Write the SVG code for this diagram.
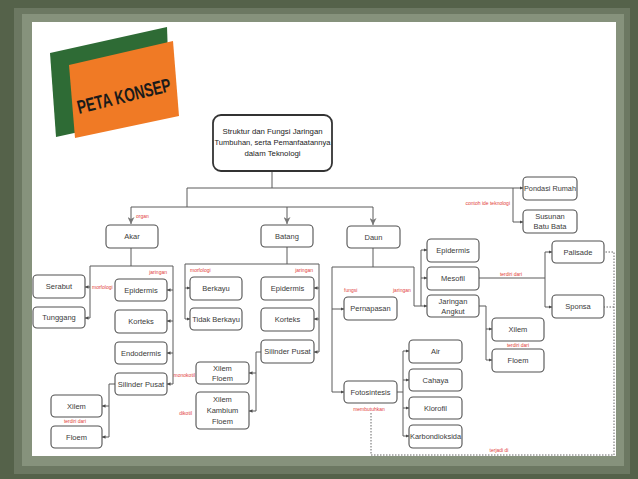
<svg xmlns="http://www.w3.org/2000/svg" width="638" height="479" viewBox="0 0 638 479">
<style>
.box{fill:#fff;stroke:#505050;stroke-width:1.1}
.t{font-family:"Liberation Sans",Arial,sans-serif;font-size:7.5px;fill:#3a3a3a;text-anchor:middle}
.r{font-family:"Liberation Sans",Arial,sans-serif;font-size:5px;fill:#e2413b}
.ln{fill:none;stroke:#5a5a5a;stroke-width:1}
.ar{fill:none;stroke:#5a5a5a;stroke-width:1;marker-end:url(#a)}
.dot{fill:none;stroke:#666;stroke-width:1;stroke-dasharray:1.5 1.5}
</style>
<defs>
<marker id="a" viewBox="0 0 6 6" refX="6" refY="3" markerWidth="3.5" markerHeight="3.5" markerUnits="userSpaceOnUse" orient="auto"><path d="M0,0 L6,3 L0,6 Z" fill="#4a4a4a"/></marker>
<marker id="b" viewBox="0 0 10 10" refX="10" refY="5" markerWidth="7" markerHeight="7" markerUnits="userSpaceOnUse" orient="auto"><path d="M0,0 L10,5 L0,10 L3,5 Z" fill="#777"/></marker>
</defs>
<!-- background frame -->
<rect x="0" y="0" width="638" height="479" fill="#55624a"/>
<rect x="14" y="8" width="616" height="466" fill="#6c7862"/>
<rect x="22" y="14" width="602" height="452" fill="#86927c"/>
<rect x="32" y="22" width="584" height="434" fill="#ffffff"/>
<!-- logo -->
<g id="logo">
<polygon points="50,53 167,27 170,112 56,137" fill="#2e6b35"/>
<polygon points="69,65 173,41 179,116 75,138" fill="#f07a25"/>
<text x="79" y="114" transform="rotate(-14 79 114)" font-family="'Liberation Sans',Arial,sans-serif" font-weight="bold" font-size="19" fill="#1a1a1a" textLength="96" lengthAdjust="spacingAndGlyphs">PETA KONSEP</text>
</g>
<!-- connectors -->
<g id="connectors">
<path class="ln" d="M272,171 V188 M187,188 H513 M187,188 V207 M131,207 H373"/>
<path class="ln" d="M131,207 V224" marker-end="url(#b)"/>
<path class="ln" d="M287,207 V224" marker-end="url(#b)"/>
<path class="ln" d="M373,207 V225" marker-end="url(#b)"/>
<path class="ln" d="M513,188 V222"/>
<path class="ar" d="M513,188 H523"/><path class="ar" d="M513,222 H523"/>
<!-- akar -->
<path class="ln" d="M131,248 V266 M90,266 H173 M90,266 V318 M173,266 V384"/>
<path class="ar" d="M90,287 H85"/><path class="ar" d="M90,318 H85"/>
<path class="ar" d="M173,290 H167"/><path class="ar" d="M173,321 H167"/><path class="ar" d="M173,353 H167"/><path class="ar" d="M173,384 H167"/>
<path class="ln" d="M115,384 H109 V437"/>
<path class="ar" d="M109,406 H102"/><path class="ar" d="M109,437 H102"/>
<!-- batang -->
<path class="ln" d="M287,247 V264 M185,264 H319 M185,264 V319 M319,264 V352"/>
<path class="ar" d="M185,288 H190"/><path class="ar" d="M185,319 H190"/>
<path class="ar" d="M319,288 H314"/><path class="ar" d="M319,319 H314"/><path class="ar" d="M319,352 H314"/>
<path class="ln" d="M261,352 H256 V411"/>
<path class="ar" d="M256,373 H249"/><path class="ar" d="M256,411 H249"/>
<!-- daun -->
<path class="ln" d="M373,248 V267 M332,267 H414 V306 H421 M421,250 V306 M332,267 V392"/>
<path class="ar" d="M421,250 H427"/><path class="ar" d="M421,278 H427"/><path class="ar" d="M421,306 H427"/>
<path class="ar" d="M332,309 H344"/><path class="ar" d="M332,392 H344"/>
<path class="ln" d="M397,392 H403 M403,351 V436"/>
<path class="ar" d="M403,351 H409"/><path class="ar" d="M403,380 H409"/><path class="ar" d="M403,408 H409"/><path class="ar" d="M403,436 H409"/>
<path class="ln" d="M479,278 H545 M545,252 V307"/>
<path class="ar" d="M545,252 H552"/><path class="ar" d="M545,307 H552"/>
<path class="ln" d="M479,306 H486 V360"/>
<path class="ar" d="M486,329 H492"/><path class="ar" d="M486,360 H492"/>
<path class="dot" d="M371,413 V455 H614 V252 H604 M614,307 H604"/>
</g>
<!-- labels -->
<g id="labels">
<text class="r" x="136" y="218">organ</text>
<text class="r" x="510" y="205" text-anchor="end">contoh ide teknologi</text>
<text class="r" x="92" y="289">morfologi</text>
<text class="r" x="167" y="274" text-anchor="end">jaringan</text>
<text class="r" x="75" y="423" text-anchor="middle">terdiri dari</text>
<text class="r" x="190" y="272">morfologi</text>
<text class="r" x="313" y="272" text-anchor="end">jaringan</text>
<text class="r" x="195" y="377" text-anchor="end">monokotil</text>
<text class="r" x="192" y="415" text-anchor="end">dikotil</text>
<text class="r" x="344" y="292">fungsi</text>
<text class="r" x="393" y="292">jaringan</text>
<text class="r" x="369" y="411" text-anchor="middle">membutuhkan</text>
<text class="r" x="511" y="276" text-anchor="middle">terdiri dari</text>
<text class="r" x="518" y="347" text-anchor="middle">terdiri dari</text>
<text class="r" x="499" y="452" text-anchor="middle">terjadi di</text>
</g>
<!-- nodes -->
<g id="n-root"><rect x="213" y="115" width="119" height="56" rx="8" fill="#fff" stroke="#333" stroke-width="1.8"/>
<text class="t" x="272.5" y="134" style="font-size:7.8px;fill:#222">Struktur dan Fungsi Jaringan</text>
<text class="t" x="272.5" y="145" style="font-size:7.8px;fill:#222" textLength="116" lengthAdjust="spacingAndGlyphs">Tumbuhan, serta Pemanfaatannya</text>
<text class="t" x="272.5" y="156" style="font-size:7.8px;fill:#222">dalam Teknologi</text></g>
<g id="n-pondasi"><rect class="box" x="523" y="177" width="54" height="23" rx="4"/><text class="t" x="550" y="191" textLength="52" lengthAdjust="spacingAndGlyphs">Pondasi Rumah</text></g>
<g id="n-susunan"><rect class="box" x="523" y="210" width="54" height="23" rx="4"/><text class="t" x="550" y="219">Susunan</text><text class="t" x="550" y="229">Batu Bata</text></g>
<g id="n-akar"><rect class="box" x="106" y="225" width="52" height="23" rx="4"/><text class="t" x="132" y="239">Akar</text></g>
<g id="n-batang"><rect class="box" x="261" y="225" width="52" height="22" rx="4"/><text class="t" x="287" y="239">Batang</text></g>
<g id="n-daun"><rect class="box" x="347" y="226" width="53" height="22" rx="4"/><text class="t" x="373.5" y="240">Daun</text></g>
<g id="n-serabut"><rect class="box" x="33" y="275" width="52" height="23" rx="4"/><text class="t" x="59" y="289">Serabut</text></g>
<g id="n-tunggang"><rect class="box" x="33" y="307" width="52" height="21" rx="4"/><text class="t" x="59" y="320">Tunggang</text></g>
<g id="n-akar-epidermis"><rect class="box" x="115" y="279" width="52" height="22" rx="4"/><text class="t" x="141" y="293">Epidermis</text></g>
<g id="n-akar-korteks"><rect class="box" x="115" y="310" width="52" height="23" rx="4"/><text class="t" x="141" y="324">Korteks</text></g>
<g id="n-endodermis"><rect class="box" x="115" y="342" width="52" height="22" rx="4"/><text class="t" x="141" y="356">Endodermis</text></g>
<g id="n-akar-silinder"><rect class="box" x="115" y="373" width="52" height="22" rx="4"/><text class="t" x="141" y="387">Silinder Pusat</text></g>
<g id="n-akar-xilem"><rect class="box" x="51" y="395" width="51" height="22" rx="4"/><text class="t" x="76.5" y="409">Xilem</text></g>
<g id="n-akar-floem"><rect class="box" x="51" y="426" width="51" height="22" rx="4"/><text class="t" x="76.5" y="440">Floem</text></g>
<g id="n-berkayu"><rect class="box" x="190" y="277" width="52" height="23" rx="4"/><text class="t" x="216" y="291">Berkayu</text></g>
<g id="n-tidak-berkayu"><rect class="box" x="190" y="308" width="52" height="22" rx="4"/><text class="t" x="216" y="322">Tidak Berkayu</text></g>
<g id="n-batang-epidermis"><rect class="box" x="261" y="277" width="53" height="23" rx="4"/><text class="t" x="287.5" y="291">Epidermis</text></g>
<g id="n-batang-korteks"><rect class="box" x="261" y="308" width="53" height="23" rx="4"/><text class="t" x="287.5" y="322">Korteks</text></g>
<g id="n-batang-silinder"><rect class="box" x="261" y="340" width="53" height="23" rx="4"/><text class="t" x="287.5" y="354">Silinder Pusat</text></g>
<g id="n-xilem-floem"><rect class="box" x="196" y="362" width="53" height="22" rx="4"/><text class="t" x="222.5" y="371">Xilem</text><text class="t" x="222.5" y="381">Floem</text></g>
<g id="n-xilem-kambium-floem"><rect class="box" x="196" y="392" width="53" height="37" rx="4"/><text class="t" x="222.5" y="402">Xilem</text><text class="t" x="222.5" y="413">Kambium</text><text class="t" x="222.5" y="424">Floem</text></g>
<g id="n-daun-epidermis"><rect class="box" x="427" y="239" width="52" height="23" rx="4"/><text class="t" x="453" y="253">Epidermis</text></g>
<g id="n-mesofil"><rect class="box" x="427" y="267" width="52" height="23" rx="4"/><text class="t" x="453" y="281">Mesofil</text></g>
<g id="n-jaringan-angkut"><rect class="box" x="427" y="295" width="52" height="22" rx="4"/><text class="t" x="453" y="303.5">Jaringan</text><text class="t" x="453" y="313.5">Angkut</text></g>
<g id="n-pernapasan"><rect class="box" x="344" y="297" width="53" height="23" rx="4"/><text class="t" x="370.5" y="311">Pernapasan</text></g>
<g id="n-fotosintesis"><rect class="box" x="344" y="381" width="53" height="22" rx="4"/><text class="t" x="370.5" y="395">Fotosintesis</text></g>
<g id="n-air"><rect class="box" x="409" y="340" width="53" height="23" rx="4"/><text class="t" x="435.5" y="354">Air</text></g>
<g id="n-cahaya"><rect class="box" x="409" y="369" width="53" height="22" rx="4"/><text class="t" x="435.5" y="383">Cahaya</text></g>
<g id="n-klorofil"><rect class="box" x="409" y="397" width="53" height="22" rx="4"/><text class="t" x="435.5" y="411">Klorofil</text></g>
<g id="n-karbondioksida"><rect class="box" x="409" y="425" width="53" height="23" rx="4"/><text class="t" x="435.5" y="439" textLength="51" lengthAdjust="spacingAndGlyphs">Karbondioksida</text></g>
<g id="n-palisade"><rect class="box" x="552" y="241" width="52" height="22" rx="4"/><text class="t" x="578" y="255">Palisade</text></g>
<g id="n-sponsa"><rect class="box" x="552" y="295" width="52" height="23" rx="4"/><text class="t" x="578" y="309">Sponsa</text></g>
<g id="n-daun-xilem"><rect class="box" x="492" y="318" width="52" height="23" rx="4"/><text class="t" x="518" y="332">Xilem</text></g>
<g id="n-daun-floem"><rect class="box" x="492" y="349" width="52" height="23" rx="4"/><text class="t" x="518" y="363">Floem</text></g>
</svg>
